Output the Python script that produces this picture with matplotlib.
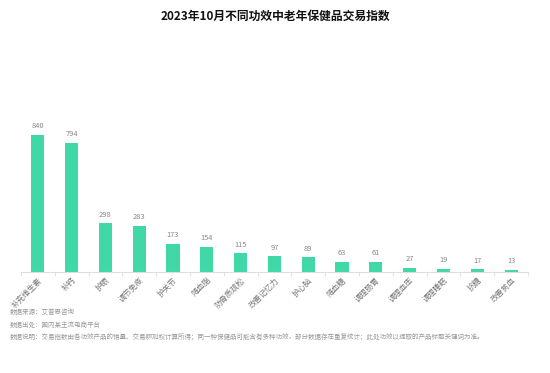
import matplotlib.pyplot as plt
import numpy as np

plt.rcParams['font.family'] = ['Noto Sans CJK SC', 'DejaVu Sans']

categories = ['补充维生素', '补钙', '护眼', '调节免疫', '护关节', '降血脂', '防骨质疏松',
              '改善记忆力', '护心脑', '降血糖', '调理肠胃', '调理血压', '调理睡眠', '抗糖', '改善贫血']
values = [840, 794, 298, 283, 173, 154, 115, 97, 89, 63, 61, 27, 19, 17, 13]
notes = ['数据来源：艾普思咨询',
         '数据出处：国内某主流电商平台',
         '数据说明：交易指数由各功效产品的销量、交易额加权计算所得；同一种保健品可能含有多种功效，部分数据存在重复统计；此处功效以提取的产品标题关键词为准。']

fig = plt.figure(figsize=(5.5, 3.73), dpi=100)
ax = fig.add_axes([0.038, 0.271, 0.922, 0.568])

x = np.arange(len(categories))
bars = ax.bar(x, values, width=0.39, color='#3FD8A6')
for xi, v in zip(x, values):
    ax.text(xi, v + 28, str(v), ha='center', va='bottom', fontsize=5.4, color='#888888')

ax.set_xlim(-0.5, len(categories) - 0.5)
ax.set_ylim(0, 1300)
ax.set_xticks(x)
ax.set_xticklabels(categories, rotation=45, ha='right', rotation_mode='anchor',
                   fontsize=5.6, color='#777777')
ax.set_xticks(np.arange(-0.5, len(categories)), minor=True)
ax.tick_params(axis='x', which='major', length=0, pad=3)
ax.tick_params(axis='x', which='minor', length=3, color='#dddddd')
ax.set_yticks([])
for s in ['top', 'right', 'left']:
    ax.spines[s].set_visible(False)
ax.spines['bottom'].set_color('#dddddd')
ax.spines['bottom'].set_linewidth(0.8)

fig.text(0.5, 0.955, '2023年10月不同功效中老年保健品交易指数', ha='center', va='center',
         fontsize=8.5, fontweight='bold', color='#111111')
for i, t in enumerate(notes):
    fig.text(0.018, 1 - (312 + i * 12.5) / 373, t, ha='left', va='center',
             fontsize=4.7, color='#999999')

fig.savefig('out.png', dpi=100)
